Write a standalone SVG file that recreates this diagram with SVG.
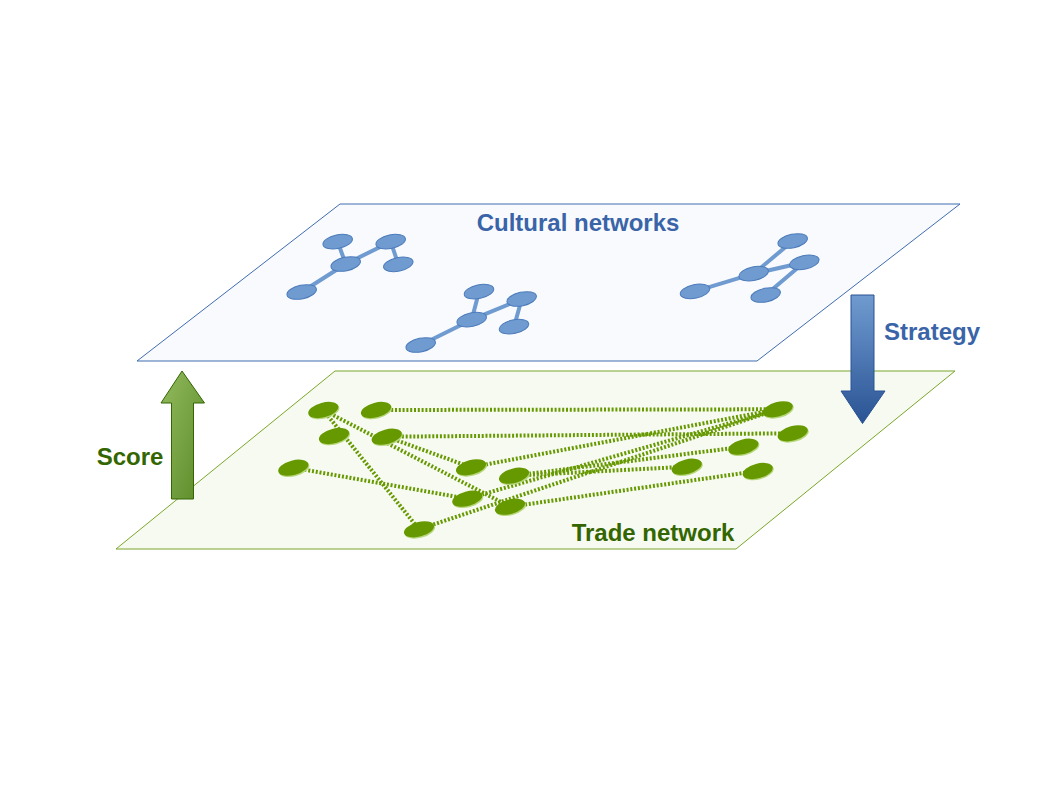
<svg xmlns="http://www.w3.org/2000/svg" width="1058" height="794" viewBox="0 0 1058 794">
<defs>
<style>
.plane-b{fill:#f8fafd;stroke:#3f6cb0;stroke-width:1}
.plane-g{fill:#f7faf1;stroke:#7aa62a;stroke-width:1}
.bedge{stroke:#6f9bd0;stroke-width:4;fill:none;stroke-linecap:round}
.bnode{fill:#6f9bd0;stroke:#4c7bbb;stroke-width:1}
.gedge{stroke:#669900;stroke-width:4;fill:none;stroke-dasharray:2 1.8}
.gnode{fill:#669900}
.gnode-hl{fill:#b6d67a}
.lbl{font-family:"Liberation Sans",Arial,sans-serif;font-weight:bold;font-size:24px}
.blue{fill:#3a64a8}
.green{fill:#336600}
</style>
<linearGradient id="gScore" x1="0" y1="0" x2="1" y2="1">
<stop offset="0" stop-color="#93bb5e"/>
<stop offset="1" stop-color="#5a8a28"/>
</linearGradient>
<linearGradient id="gStrat" x1="0" y1="0" x2="0" y2="1">
<stop offset="0" stop-color="#6f9bd0"/>
<stop offset="1" stop-color="#2a5394"/>
</linearGradient>
<g id="gn"><ellipse class="gnode-hl" cx="0.6" cy="1.4" rx="15.5" ry="7.3" transform="rotate(-15)"/><ellipse class="gnode" cx="0" cy="0" rx="15.5" ry="7.3" transform="rotate(-15)"/></g>
<g id="bn"><ellipse class="bnode" cx="0" cy="0" rx="15" ry="6.8" transform="rotate(-12)"/></g>
</defs>
<rect width="1058" height="794" fill="#ffffff"/>

<g id="cultural-plane">
<polygon class="plane-b" points="340,204 960,204 757,361 137,361"/>
<text class="lbl blue" x="578" y="231" text-anchor="middle">Cultural networks</text>
</g>

<g id="cultural-connectors">
<line class="bedge" x1="337.7" y1="241.7" x2="345.7" y2="264"/>
<line class="bedge" x1="345.7" y1="264" x2="390.7" y2="241.7"/>
<line class="bedge" x1="390.7" y1="241.7" x2="398.3" y2="264.3"/>
<line class="bedge" x1="345.7" y1="264" x2="301.7" y2="292"/>
<line class="bedge" x1="479" y1="291.7" x2="471.7" y2="319.7"/>
<line class="bedge" x1="471.7" y1="319.7" x2="521.7" y2="299"/>
<line class="bedge" x1="521.7" y1="299" x2="514" y2="326.7"/>
<line class="bedge" x1="471.7" y1="319.7" x2="420.7" y2="345"/>
<line class="bedge" x1="792.7" y1="241" x2="753.7" y2="273.7"/>
<line class="bedge" x1="753.7" y1="273.7" x2="804.3" y2="262.3"/>
<line class="bedge" x1="804.3" y1="262.3" x2="765.7" y2="295"/>
<line class="bedge" x1="753.7" y1="273.7" x2="695" y2="291.3"/>
</g>

<g id="cultural-nodes">
<use id="c1" href="#bn" x="337.7" y="241.7"/>
<use id="c2" href="#bn" x="390.7" y="241.7"/>
<use id="c3" href="#bn" x="345.7" y="264"/>
<use id="c4" href="#bn" x="398.3" y="264.3"/>
<use id="c5" href="#bn" x="301.7" y="292"/>
<use id="c6" href="#bn" x="479" y="291.7"/>
<use id="c7" href="#bn" x="521.7" y="299"/>
<use id="c8" href="#bn" x="471.7" y="319.7"/>
<use id="c9" href="#bn" x="514" y="326.7"/>
<use id="c10" href="#bn" x="420.7" y="345"/>
<use id="c11" href="#bn" x="792.7" y="241"/>
<use id="c12" href="#bn" x="804.3" y="262.3"/>
<use id="c13" href="#bn" x="753.7" y="273.7"/>
<use id="c14" href="#bn" x="765.7" y="295"/>
<use id="c15" href="#bn" x="695" y="291.3"/>
</g>

<g id="trade-plane">
<polygon class="plane-g" points="335,371 955,371 736,549 116,549"/>
<text class="lbl green" x="653" y="541" text-anchor="middle">Trade network</text>
</g>

<g id="trade-connectors">
<line class="gedge" x1="376" y1="410" x2="777.7" y2="409.3"/>
<line class="gedge" x1="386.7" y1="436.7" x2="792.7" y2="433.3"/>
<line class="gedge" x1="323.3" y1="410" x2="510" y2="506.7"/>
<line class="gedge" x1="386.7" y1="436.7" x2="471" y2="467.3"/>
<line class="gedge" x1="323.3" y1="410" x2="419" y2="529.3"/>
<line class="gedge" x1="293.3" y1="467.7" x2="467.3" y2="498.7"/>
<line class="gedge" x1="471" y1="467.3" x2="777.7" y2="409.3"/>
<line class="gedge" x1="467.3" y1="498.7" x2="777.7" y2="409.3"/>
<line class="gedge" x1="419" y1="529.3" x2="777.7" y2="409.3"/>
<line class="gedge" x1="514" y1="475.7" x2="743.3" y2="446.7"/>
<line class="gedge" x1="514" y1="475.7" x2="686.7" y2="466.7"/>
<line class="gedge" x1="510" y1="506.7" x2="757.7" y2="471"/>
</g>

<g id="trade-nodes">
<use id="t1" href="#gn" x="323.3" y="410"/>
<use id="t2" href="#gn" x="376" y="410"/>
<use id="t3" href="#gn" x="334" y="436"/>
<use id="t4" href="#gn" x="386.7" y="436.7"/>
<use id="t5" href="#gn" x="293.3" y="467.7"/>
<use id="t6" href="#gn" x="471" y="467.3"/>
<use id="t7" href="#gn" x="514" y="475.7"/>
<use id="t8" href="#gn" x="467.3" y="498.7"/>
<use id="t9" href="#gn" x="510" y="506.7"/>
<use id="t10" href="#gn" x="419" y="529.3"/>
<use id="t11" href="#gn" x="777.7" y="409.3"/>
<use id="t12" href="#gn" x="792.7" y="433.3"/>
<use id="t13" href="#gn" x="743.3" y="446.7"/>
<use id="t14" href="#gn" x="686.7" y="466.7"/>
<use id="t15" href="#gn" x="757.7" y="471"/>
</g>

<g id="score">
<polygon points="182,371 204.5,403 193.5,403 193.5,499 171.5,499 171.5,403 161,403" fill="url(#gScore)" stroke="#336600" stroke-width="1"/>
<text class="lbl green" x="130" y="465" text-anchor="middle">Score</text>
</g>

<g id="strategy">
<polygon points="851,295 874,295 874,391 885,391 862.5,423.5 841,391 851,391" fill="url(#gStrat)" stroke="#2a5394" stroke-width="1"/>
<text class="lbl blue" x="932" y="340" text-anchor="middle">Strategy</text>
</g>
</svg>
